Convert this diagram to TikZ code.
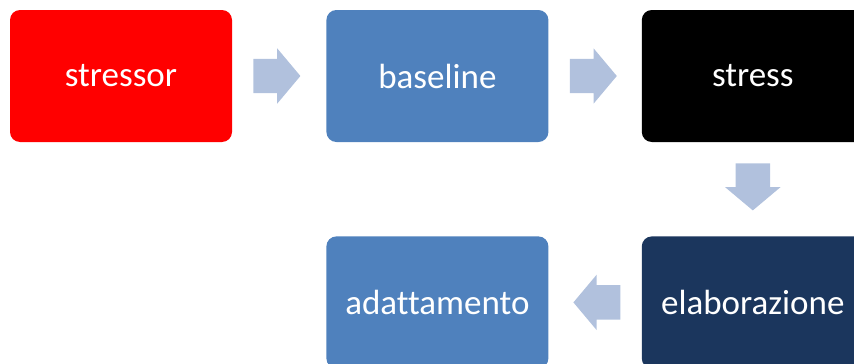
\documentclass[tikz,border=0pt]{standalone}
\usepackage{fontspec}
\setmainfont{Carlito}[Ligatures=NoCommon]
\usetikzlibrary{positioning,shapes.arrows,calc}
\definecolor{boxblue}{HTML}{4F81BD}
\definecolor{boxnavy}{HTML}{1B365D}
\definecolor{arrowblue}{HTML}{B1C1DD}
\tikzset{
  stepbox/.style={rounded corners=10pt, minimum width=222pt, minimum height=132pt,
    text=white, font=\fontsize{35}{42}\selectfont, inner sep=0pt},
  flowarrow/.style={single arrow, fill=arrowblue, draw=none, minimum height=47pt,
    inner xsep=0pt, inner ysep=17pt, single arrow head extend=10.5pt,
    single arrow tip angle=100, anchor=tail}
}
\begin{document}
\begin{tikzpicture}[x=1pt,y=-1pt]
  \useasboundingbox (0,0) rectangle (854,364);
  \clip (0,0) rectangle (854,364);
  % top row
  \node[stepbox, fill=red] (stressor) at (121,76) {stressor};
  \node[stepbox, fill=boxblue, right=94pt of stressor] (baseline) {baseline};
  \node[stepbox, fill=black, right=93pt of baseline] (stress) {stress};
  % bottom row
  \node[stepbox, fill=boxnavy, below=94pt of stress] (elaborazione) {elaborazione};
  \node[stepbox, fill=boxblue, left=93pt of elaborazione] (adattamento) {adattamento};
  % block arrows
  \node[flowarrow] (a1) at ($(stressor.east)+(21,0)$) {};
  \node[flowarrow] (a2) at ($(baseline.east)+(21,0)$) {};
  \node[flowarrow, rotate=-90] (a3) at ($(stress.south)+(0,21)$) {};
  \node[flowarrow, rotate=180] (a4) at ($(elaborazione.west)+(-21,0)$) {};
\end{tikzpicture}
\end{document}
